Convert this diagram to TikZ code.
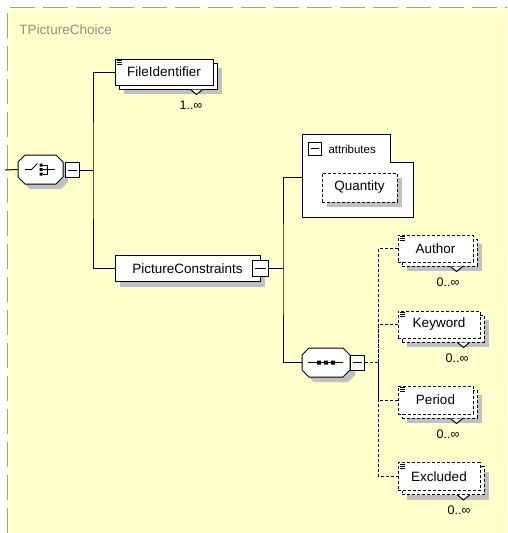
\documentclass[tikz,border=0pt]{standalone}
\usepackage{fontspec}
\setmainfont{Liberation Sans}
\usetikzlibrary{shadows}
\definecolor{bgyellow}{RGB}{255,255,204}
\definecolor{framegray}{RGB}{160,160,160}
\definecolor{shadowgray}{RGB}{192,192,192}
\definecolor{titlegray}{RGB}{140,140,140}
\begin{document}
\begin{tikzpicture}[x=1pt,y=-1pt,line width=1pt,
  every node/.style={font=\fontsize{13.5}{16}\selectfont},
  elem/.style={draw,fill=white,inner sep=0pt,minimum height=26pt,drop shadow={shadow xshift=5pt,shadow yshift=-5pt,fill=shadowgray,opacity=1}},
  optelem/.style={elem,dash pattern=on 3pt off 2pt},
  multi/.style={draw,fill=white,inner sep=0pt,minimum height=26pt,drop shadow={shadow xshift=9pt,shadow yshift=-9pt,fill=shadowgray,opacity=1},copy shadow={shadow xshift=4pt,shadow yshift=-4pt,draw=black,fill=white}},
  optmulti/.style={draw,fill=white,dash pattern=on 3pt off 2pt,inner sep=0pt,minimum height=27pt,drop shadow={shadow xshift=9pt,shadow yshift=-9pt,fill=shadowgray,opacity=1},copy shadow={shadow xshift=4pt,shadow yshift=-4pt,draw=black,fill=white,dash pattern=on 3pt off 2pt}},
  comp/.style={inner sep=0pt,minimum height=29pt},
  minusbox/.style={draw,fill=white,inner sep=0pt,minimum width=14pt,minimum height=15pt},
  mult/.style={font=\fontsize{12.5}{14}\selectfont,inner sep=0pt}]
\useasboundingbox (0,0) rectangle (507,533);
\fill[bgyellow] (8,7) rectangle (507,533);
\draw[framegray,line width=1.5pt,dash pattern=on 25pt off 8pt] (7.5,533) -- (7.5,7.5) -- (507,7.5);
\node[text=titlegray,anchor=west,inner sep=0pt] (title) at (19,30) {TPictureChoice};
\node[comp,minimum width=45pt] (ch) at (40.5,169.5) {};
\node[comp,minimum width=48pt] (sq) at (326,362.5) {};
\foreach \c/\w in {ch/22.5,sq/24} {
  \begin{scope}[shift={(\c.center)}]
  \fill[shadowgray,shift={(5,5)}] (-\w,-7.5) -- (-\w+7,-14.5) -- (\w-7,-14.5) -- (\w,-7.5) -- (\w,7.5) -- (\w-7,14.5) -- (-\w+7,14.5) -- (-\w,7.5) -- cycle;
  \draw[fill=white] (-\w,-7.5) -- (-\w+7,-14.5) -- (\w-7,-14.5) -- (\w,-7.5) -- (\w,7.5) -- (\w-7,14.5) -- (-\w+7,14.5) -- (-\w,7.5) -- cycle;
  \end{scope}
}
\node[minusbox] (chm) at (72,170) {};
\node[multi,minimum width=98pt] (fid) at (164,72) {FileIdentifier};
\node[elem,minimum width=145pt] (pc) at (187.5,268.5) {PictureConstraints\hspace{6pt}};
\node[minusbox,minimum width=16pt,minimum height=16pt] (pcm) at (260,268.5) {};
\draw[fill=white] (302,134.5) -- (390,134.5) -- (390,162) -- (413,162) -- (413,217) -- (302,217) -- cycle;
\node[minusbox,minimum width=13pt,minimum height=13pt] (attm) at (315,148.5) {};
\node[anchor=west,inner sep=0pt,font=\fontsize{11.5}{14}\selectfont] (attl) at (328,149) {attributes};
\node[optelem,minimum width=75pt,minimum height=29pt] (qty) at (359.5,187.5) {Quantity};
\node[minusbox] (sqm) at (357.5,362.5) {};
\node[optmulti,minimum width=75pt] (aut) at (435.5,248.5) {Author};
\node[optmulti,minimum width=82pt] (key) at (439,324.5) {Keyword};
\node[optmulti,minimum width=75pt,minimum height=28pt] (per) at (435.5,400) {Period};
\node[optmulti,minimum width=82pt,minimum height=28pt] (exc) at (439,476.5) {Excluded};
\node[mult] (fidm) at (191,105) {1..∞};
\node[mult] (autm) at (448,282) {0..∞};
\node[mult] (keym) at (457,358) {0..∞};
\node[mult] (perm) at (448,434) {0..∞};
\node[mult] (excm) at (459,510) {0..∞};
\foreach \m in {chm,pcm,attm,sqm} \draw ([xshift=3pt]\m.west) -- ([xshift=-3pt]\m.east);
\foreach \n in {fid,aut,key,per,exc} {
  \begin{scope}[shift={(\n.north west)},line width=0.8pt]
  \draw (2,2) -- (7,2) (2,4) -- (7,4) (2,6) -- (7,6);
  \end{scope}
  \begin{scope}[shift={(\n.south east)}]
  \draw[fill=white] (-23,4) -- (-17,9) -- (-11,4);
  \end{scope}
}
\begin{scope}[shift={(ch.center)}]
\draw (-15.5,0) -- (-9,0) -- (-3,-6);
\fill (-1,-6) rectangle (2,-3) (-1,-1.5) rectangle (2,1.5) (-1,3) rectangle (2,6);
\draw (2,-4.5) -- (7,-4.5) (2,0) -- (14,0) (2,4.5) -- (7,4.5) (7,-4.5) -- (7,4.5);
\end{scope}
\begin{scope}[shift={(sq.center)}]
\draw (-18,0) -- (17,0);
\fill (-9,-2) rectangle (-5,2) (-2,-2) rectangle (2,2) (5,-2) rectangle (9,2);
\end{scope}
\coordinate (lin) at (5,170);
\coordinate (t1) at (93,170);
\coordinate (t2) at (283,268.5);
\coordinate (attw) at (302,177);
\coordinate (t3) at (378,362.5);
\draw (lin) -- (ch.west);
\draw (chm.east) -- (t1);
\draw (fid.west) -| (t1) |- (pc.west);
\draw (pcm.east) -- (t2);
\draw (attw) -| (t2) |- (sq.west);
\draw[dash pattern=on 3pt off 2pt] (sqm.east) -- (t3);
\draw[dash pattern=on 3pt off 2pt] (aut.west) -| (t3) |- (exc.west);
\draw[dash pattern=on 3pt off 2pt] (key.west) -| (t3);
\draw[dash pattern=on 3pt off 2pt] (per.west) -| (t3);
\end{tikzpicture}
\end{document}
